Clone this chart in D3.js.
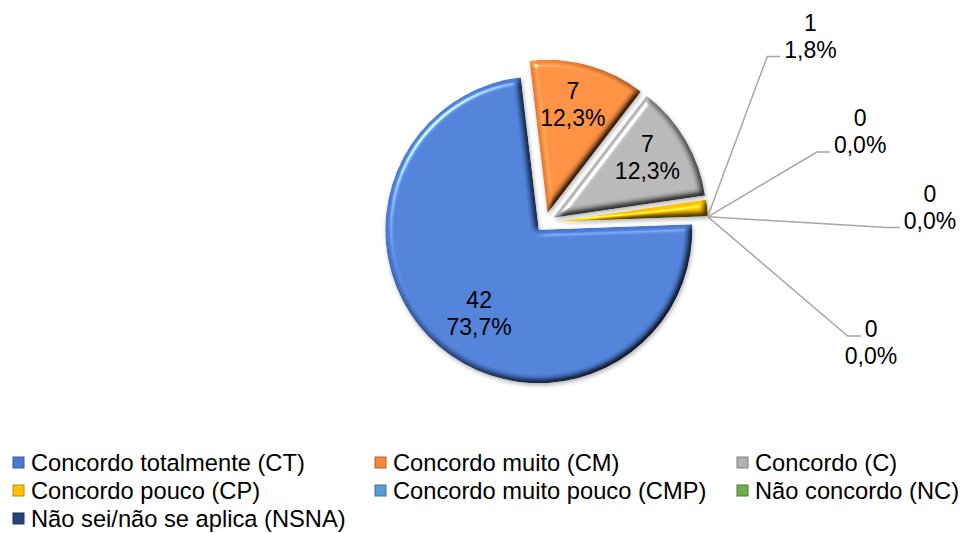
<!DOCTYPE html>
<html>
<head>
<meta charset="utf-8">
<script src="https://cdn.jsdelivr.net/npm/d3@7"></script>
<style>
  body { margin: 0; background: #fff; }
  text { font-family: "Liberation Sans", Arial, sans-serif; fill: #000; }
</style>
</head>
<body>
<svg id="chart" width="963" height="533"></svg>
<script>
// data
const categories = [
    "Concordo totalmente (CT)", "Concordo muito (CM)", "Concordo (C)",
    "Concordo pouco (CP)", "Concordo muito pouco (CMP)", "Não concordo (NC)",
    "Não sei/não se aplica (NSNA)"
];
const counts = [42, 7, 7, 1, 0, 0, 0];
const colors = ["#4a7bd1", "#f4883b", "#b0b0b0", "#ffc000", "#5b9bd5", "#70ad47", "#264478"];

// layout
const cx = 545, cy = 222.5, R = 153.5;
const explode = 9.5;
const startDeg = 88;
const fontSize = 23;
const legendFont = 23.7;
const lineGap = 27;
// outside labels (CP, CMP, NC, NSNA): polar position of label centre from the pie centre
const outsideLabels = [
    { i: 3, deg: 54.9, dist: 324.5 },
    { i: 4, deg: 73.9, dist: 328 },
    { i: 5, deg: 87.7, dist: 385.3 },
    { i: 6, deg: 110.2, dist: 347.4 }
];

const svg = d3.select("#chart");
const total = d3.sum(counts);
const locale = d3.formatLocale({ decimal: ",", thousands: ".", grouping: [3], currency: ["", ""] });
const pct = locale.format(".1%");
const polar = (a, r) => [Math.sin(a) * r, -Math.cos(a) * r];

// bevel + shadow filter
const defs = svg.append("defs");
const f = defs.append("filter").attr("id", "bevel")
    .attr("x", "-8%").attr("y", "-8%").attr("width", "120%").attr("height", "120%")
    .attr("color-interpolation-filters", "sRGB");
f.append("feGaussianBlur").attr("in", "SourceAlpha").attr("stdDeviation", 3).attr("result", "blur");
f.append("feDiffuseLighting").attr("in", "blur").attr("surfaceScale", 5)
    .attr("diffuseConstant", 1.16).attr("lighting-color", "#fff").attr("result", "diff")
    .append("feDistantLight").attr("azimuth", 225).attr("elevation", 60);
f.append("feComposite").attr("in", "SourceGraphic").attr("in2", "diff")
    .attr("operator", "arithmetic").attr("k1", 1).attr("k2", 0).attr("k3", 0).attr("k4", 0)
    .attr("result", "shade");
f.append("feSpecularLighting").attr("in", "blur").attr("surfaceScale", 5)
    .attr("specularConstant", 0.6).attr("specularExponent", 35)
    .attr("lighting-color", "#fff").attr("result", "spec")
    .append("feDistantLight").attr("azimuth", 225).attr("elevation", 45);
f.append("feComposite").attr("in", "spec").attr("in2", "SourceAlpha")
    .attr("operator", "in").attr("result", "specIn");
f.append("feComposite").attr("in", "shade").attr("in2", "specIn")
    .attr("operator", "arithmetic").attr("k1", 0).attr("k2", 1).attr("k3", 1).attr("k4", 0)
    .attr("result", "lit");
f.append("feComposite").attr("in", "lit").attr("in2", "SourceAlpha")
    .attr("operator", "in").attr("result", "litIn");
f.append("feGaussianBlur").attr("in", "SourceAlpha").attr("stdDeviation", 2).attr("result", "sb");
f.append("feOffset").attr("in", "sb").attr("dx", 1).attr("dy", 2).attr("result", "so");
f.append("feComponentTransfer").attr("in", "so").attr("result", "shadow")
    .append("feFuncA").attr("type", "linear").attr("slope", 0.3);
const merge = f.append("feMerge");
merge.append("feMergeNode").attr("in", "shadow");
merge.append("feMergeNode").attr("in", "litIn");

// pie
const start = startDeg * Math.PI / 180;
const pie = d3.pie().sort(null).value(d => d)
    .startAngle(start).endAngle(start + 2 * Math.PI);
const arcs = pie(counts);
arcs.forEach(a => {
    a.mid = (a.startAngle + a.endAngle) / 2;
    a.off = polar(a.mid, explode);
});
const arc = d3.arc().innerRadius(0).outerRadius(R);

const pieG = svg.append("g").attr("transform", `translate(${cx},${cy})`);

pieG.selectAll(".slice").data(arcs.filter(a => a.value > 0))
    .join("path").attr("class", "slice")
    .attr("transform", d => `translate(${d.off[0]},${d.off[1]})`)
    .attr("d", arc)
    .attr("fill", d => colors[d.index])
    .attr("filter", "url(#bevel)");

// two-line data label centred on (x, y)
function twoLines(g, x, y, a, b) {
    const t = g.append("g").attr("class", "lbl");
    t.append("text").attr("x", x).attr("y", y - lineGap / 2 + fontSize * 0.36)
        .attr("text-anchor", "middle").attr("font-size", fontSize).text(a);
    t.append("text").attr("x", x).attr("y", y + lineGap / 2 + fontSize * 0.36)
        .attr("text-anchor", "middle").attr("font-size", fontSize).text(b);
    return t;
}

// inside labels
arcs.slice(0, 3).forEach(a => {
    const big = a.value / total > 0.5;
    const p = polar(a.mid - (big ? 0.09 : 0.04), R * (big ? 0.67 : 0.73));
    twoLines(pieG, a.off[0] + p[0], a.off[1] + p[1], a.value, pct(a.value / total));
});

// outside labels with leader lines
const leaderG = pieG.append("g").attr("class", "leaders");
outsideLabels.forEach(o => {
    const a = arcs[o.i];
    const tip = polar(a.endAngle, R);
    const origin = [tip[0] + a.off[0], tip[1] + a.off[1]];
    const c = polar(o.deg * Math.PI / 180, o.dist);
    const t = twoLines(pieG, c[0], c[1], a.value, pct(a.value / total));
    // attach to the line nearest the slice
    const lineIdx = c[1] < origin[1] ? 1 : 0;
    const node = t.selectAll("text").nodes()[lineIdx];
    const w = node.getComputedTextLength();
    const ey = c[1] + (lineIdx ? lineGap / 2 : -lineGap / 2) + 7;
    const ex = c[0] - w / 2 - 4;
    leaderG.append("polyline")
        .attr("points", `${origin[0]},${origin[1]} ${ex - 13},${ey} ${ex},${ey}`)
        .attr("fill", "none")
        .attr("stroke", "#a6a6a6")
        .attr("stroke-width", 1.5);
});

// legend
const legend = svg.append("g").attr("class", "legend");
const colX = [31, 393, 755];
const rowY = [471, 499, 527];
const item = legend.selectAll(".item").data(categories)
    .join("g").attr("class", "item")
    .attr("transform", (d, i) => `translate(${colX[i % 3]},${rowY[Math.floor(i / 3)]})`);
item.append("rect")
    .attr("x", -18).attr("y", -14).attr("width", 11).attr("height", 11)
    .attr("fill", (d, i) => colors[i])
    .attr("stroke", (d, i) => d3.color(colors[i]).darker(0.9))
    .attr("stroke-width", 1);
item.append("text")
    .attr("font-size", legendFont)
    .text(d => d);
</script>
</body>
</html>
